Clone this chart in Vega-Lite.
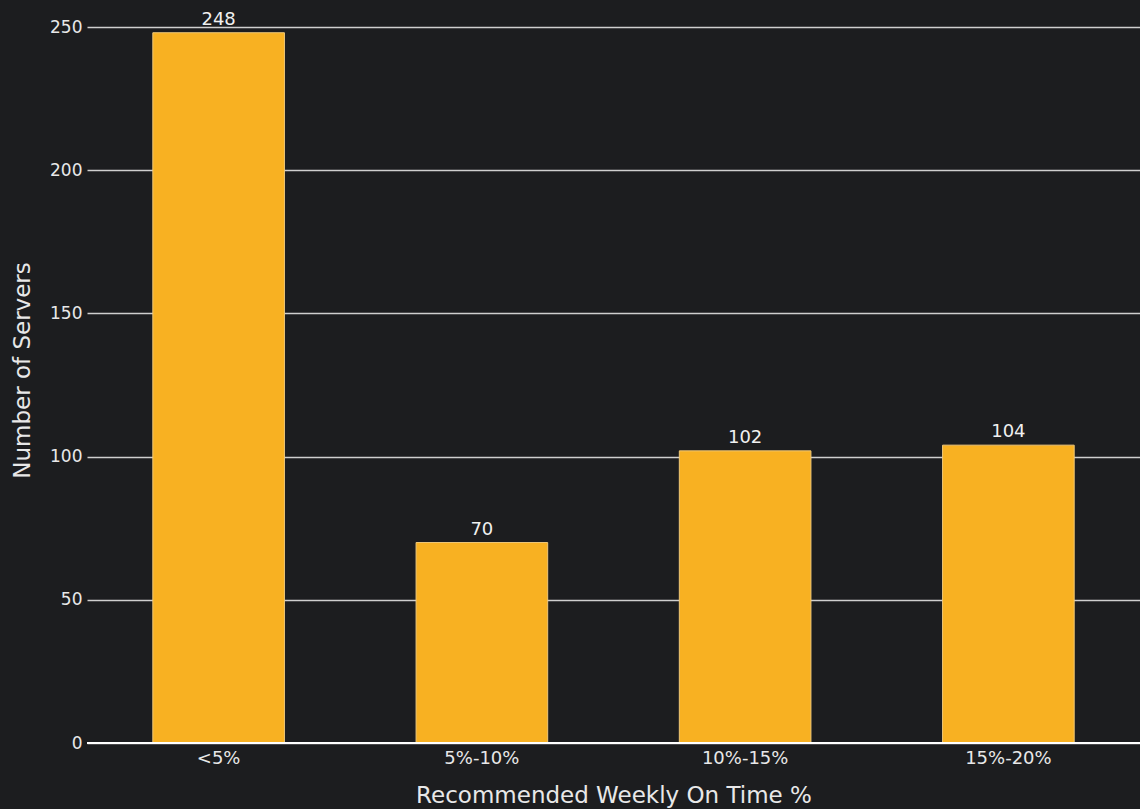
{
  "$schema": "https://vega.github.io/schema/vega-lite/v6.json",
  "width": 1053,
  "height": 716,
  "autosize": {"type": "none"},
  "padding": {"left": 87, "top": 27, "right": 0, "bottom": 66},
  "background": "#1c1d1f",
  "config": {
    "view": {"stroke": null},
    "font": "DejaVu Sans",
    "axis": {"labelFont": "DejaVu Sans", "titleFont": "DejaVu Sans"}
  },
  "data": {
    "values": [
      {"range": "<5%", "servers": 248},
      {"range": "5%-10%", "servers": 70},
      {"range": "10%-15%", "servers": 102},
      {"range": "15%-20%", "servers": 104}
    ]
  },
  "encoding": {
    "x": {
      "field": "range",
      "type": "nominal",
      "sort": null,
      "scale": {"paddingInner": 0.5, "paddingOuter": 0.25},
      "axis": {
        "title": "Recommended Weekly On Time %",
        "labelAngle": 0,
        "labelColor": "#e8e8e8",
        "labelFontSize": 18,
        "labelPadding": 6,
        "ticks": false,
        "domain": false,
        "titleColor": "#e8e8e8",
        "titleFontSize": 23,
        "titleFontWeight": "normal",
        "titlePadding": 17
      }
    },
    "y": {
      "field": "servers",
      "type": "quantitative",
      "scale": {"domain": [0, 250], "nice": false},
      "axis": {
        "title": "Number of Servers",
        "values": [0, 50, 100, 150, 200, 250],
        "labelColor": "#e8e8e8",
        "labelFontSize": 17,
        "labelPadding": 5,
        "ticks": false,
        "domain": false,
        "gridColor": "#cfcfcf",
        "gridWidth": 1.3,
        "titleColor": "#e8e8e8",
        "titleFontSize": 23,
        "titleFontWeight": "normal",
        "titlePadding": 15,
        "titleY": 343
      }
    }
  },
  "layer": [
    {
      "mark": {"type": "bar", "color": "#f8b122", "stroke": "#f0c878", "strokeWidth": 1}
    },
    {
      "mark": {"type": "rule", "color": "#ffffff", "strokeWidth": 2},
      "encoding": {"y": {"datum": 0}, "x": null}
    },
    {
      "mark": {"type": "text", "baseline": "bottom", "dy": -4, "fontSize": 18, "color": "#f0f0f0"},
      "encoding": {"text": {"field": "servers", "type": "quantitative"}}
    }
  ]
}
